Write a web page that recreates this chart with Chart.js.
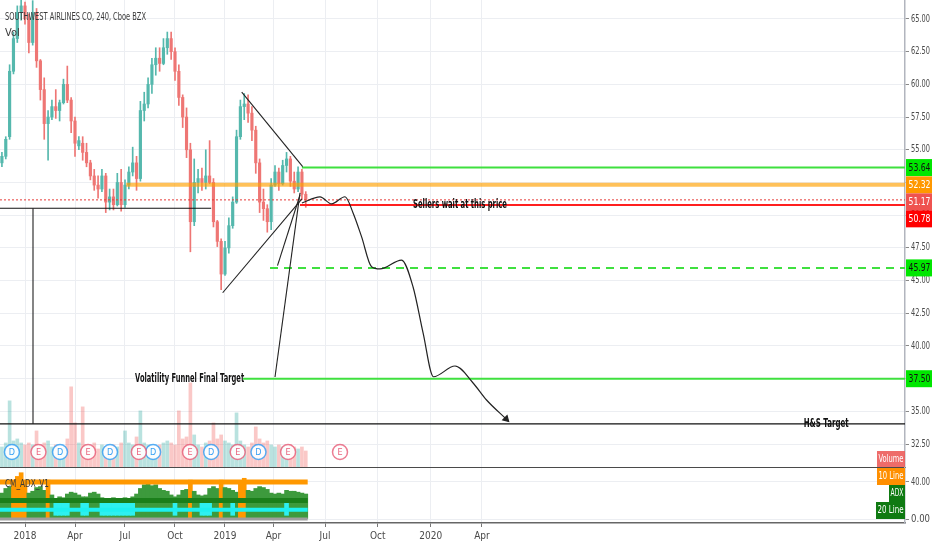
<!DOCTYPE html>
<html>
<head>
<meta charset="utf-8">
<script src="https://cdn.jsdelivr.net/npm/chart.js@4.4.1/dist/chart.umd.min.js"></script>
<style>
html, body { margin: 0; padding: 0; background: #fff; overflow: hidden; }
#wrap { position: relative; width: 932px; height: 550px; }
#mainChart { position: absolute; left: 0; top: 0; }
#adxChart { position: absolute; left: 0; top: 468px; }
</style>
</head>
<body>
<div id="wrap">
  <canvas id="mainChart" width="932" height="468"></canvas>
  <canvas id="adxChart" width="932" height="82"></canvas>
</div>
<script>
// x unit = week number counted from mid Nov 2017 (one candle per week)
var tickWeeks = [7, 20, 33, 46, 59, 71.6, 85, 98.7, 112.5, 125.8];
var tickLabels = ['2018', 'Apr', 'Jul', 'Oct', '2019', 'Apr', 'Jul', 'Oct', '2020', 'Apr'];
var priceTicks = [32.5, 35, 37.5, 40, 42.5, 45, 47.5, 50, 52.5, 55, 57.5, 60, 62.5, 65];
var adxTicks = [0, 40];

var opens = [54.0, 54.5, 56.0, 61.0, 63.5, 65.5, 66.0, 65.0, 63.2, 65.5,
             61.8, 59.6, 57.0, 57.5, 58.3, 58.0, 58.6, 60.0, 58.8, 57.2,
             55.3, 55.5, 54.8, 54.0, 53.0, 52.3, 52.0, 53.0, 51.0, 51.4,
             50.8, 52.5, 50.8, 52.3, 53.3, 54.0, 52.8, 58.0, 58.5, 60.0,
             61.5, 62.0, 61.6, 62.8, 63.5, 62.5, 61.0, 59.0, 57.5, 55.0,
             49.5, 52.5, 52.8, 52.5, 53.0, 52.5, 49.5, 48.0, 45.5, 47.5,
             49.2, 51.0, 56.0, 58.3, 58.5, 57.8, 56.5, 54.0, 51.0, 50.5,
             49.5, 52.3, 53.3, 52.4, 53.8, 54.3, 52.6, 52.0, 53.3, 51.6];
var highs = [54.8, 56.0, 61.5, 64.0, 66.0, 66.8, 66.3, 65.4, 66.4, 65.8,
             61.9, 60.5, 58.0, 58.8, 59.6, 58.8, 60.4, 61.4, 59.0, 57.5,
             56.0, 56.0, 55.5, 54.2, 53.5, 53.0, 53.5, 53.2, 52.0, 52.0,
             53.2, 53.5, 52.7, 53.7, 55.2, 54.5, 58.7, 59.4, 60.5, 62.0,
             62.8, 62.8, 63.5, 64.0, 64.0, 62.8, 61.5, 59.2, 58.2, 55.5,
             54.3, 53.5, 53.6, 55.0, 55.7, 52.8, 49.6, 48.2, 48.0, 49.8,
             51.4, 56.5, 58.8, 59.3, 59.2, 58.3, 56.8, 54.3, 52.0, 50.8,
             52.8, 53.8, 53.6, 54.2, 54.8, 54.5, 53.3, 53.7, 53.5, 51.8];
var lows = [53.7, 54.3, 55.8, 60.8, 63.2, 64.9, 64.6, 62.4, 63.0, 61.3,
            58.8, 55.8, 54.2, 57.3, 57.4, 57.2, 58.5, 58.6, 56.3, 54.5,
            55.0, 54.2, 53.7, 52.7, 51.9, 51.3, 51.8, 50.2, 50.4, 50.4,
            50.7, 50.3, 50.6, 52.0, 53.0, 51.9, 52.6, 57.2, 58.2, 59.3,
            60.7, 61.0, 61.5, 62.3, 61.9, 60.3, 58.4, 56.7, 54.4, 47.2,
            49.2, 51.7, 51.9, 52.0, 52.4, 49.1, 47.6, 44.3, 45.4, 47.1,
            49.0, 50.9, 55.8, 57.3, 57.1, 55.7, 53.2, 50.2, 49.6, 48.7,
            48.9, 52.2, 51.9, 52.3, 53.3, 52.2, 51.7, 51.8, 51.2, 50.6];
var closes = [54.5, 55.8, 61.0, 63.5, 65.5, 66.0, 65.0, 63.2, 65.5, 61.8,
              59.6, 57.0, 57.5, 58.3, 58.0, 58.6, 60.0, 58.8, 57.2, 55.5,
              55.7, 54.8, 54.0, 53.0, 52.3, 52.0, 53.0, 51.0, 51.4, 50.8,
              52.5, 50.8, 52.3, 53.3, 54.0, 52.8, 58.0, 58.5, 60.0, 61.5,
              62.0, 61.6, 62.8, 63.5, 62.5, 61.0, 59.0, 57.5, 55.0, 49.5,
              52.5, 52.8, 52.5, 53.0, 52.5, 49.5, 48.0, 45.5, 47.5, 49.2,
              51.0, 56.0, 58.3, 58.5, 57.8, 56.5, 54.0, 51.0, 50.5, 49.5,
              52.3, 53.3, 52.4, 53.8, 54.3, 52.6, 52.0, 53.3, 51.6, 51.17];
var volumes = [10, 12, 33, 13, 14, 12, 11, 12, 11, 18,
               11, 12, 13, 10, 11, 9, 10, 14, 40, 22,
               12, 30, 11, 10, 12, 9, 11, 10, 9, 11,
               10, 12, 18, 12, 11, 15, 28, 12, 11, 10,
               9, 11, 12, 13, 12, 11, 28, 14, 15, 42,
               16, 11, 10, 12, 13, 22, 14, 16, 13, 12,
               11, 27, 13, 11, 10, 12, 20, 14, 12, 13,
               11, 10, 11, 10, 9, 11, 10, 9, 10, 8];
var adxValues = [28, 33, 35, 41, 46, 50, 41, 28, 30, 34,
                 35, 31, 42, 26, 22, 24, 23, 27, 29, 28,
                 26, 24, 24, 28, 29, 27, 23, 22, 22, 23,
                 22, 21, 23, 22, 24, 27, 33, 37, 38, 36,
                 37, 33, 31, 30, 26, 24, 26, 31, 32, 42,
                 30, 26, 25, 26, 33, 35, 33, 42, 34, 33,
                 31, 29, 41, 44, 31, 30, 33, 35, 34, 32,
                 28, 27, 28, 27, 31, 30, 30, 29, 28, 27];
var cyanWeeks = [15, 16, 17, 18, 22, 23, 27, 28, 29, 30, 31, 32, 33, 34, 35, 46, 53, 54, 55, 61, 75];
var adxLevels = [40, 20, 10, 0];

var dividendWeeks = [3.6, 16.1, 29.1, 40.3, 55.4, 67.7];
var earningsWeeks = [10.5, 23.4, 36.6, 49.9, 62.3, 75.4, 88.9];

// horizontal drawings: price, first week, last week
var levelPrices = [53.64, 52.32, 51.17, 50.78, 50.53, 45.97, 37.50, 34.04];
var levelStarts = [79.0, 33.3, 0.5, 78.5, 0.5, 70.7, 63.7, 0.5];
var levelEnds = [235.8, 235.8, 235.8, 235.8, 55.4, 235.8, 235.8, 235.8];
var tagPrices = [53.64, 52.32, 51.17, 50.78, 45.97, 37.50];

// trend lines [week, price] pairs
var trendLines = [
  [[63.35, 59.40], [79.2, 53.71]],
  [[58.4, 44.07], [79.0, 51.24]],
  [[72.65, 46.15], [78.5, 51.54]],
  [[72.0, 37.63], [78.5, 51.70]],
  [[9.08, 50.53], [9.08, 34.04]]
];

// projected path
var pathWeeks = [79.0, 83.7, 86.7, 90.2, 92.3, 94.5, 97.1, 99.3, 104.9, 107.9, 110.5, 113.2, 118.8, 123.5, 127.0, 132.1];
var pathPrices = [50.93, 51.40, 50.86, 51.41, 50.17, 48.36, 46.06, 45.89, 46.57, 44.51, 41.0, 37.65, 38.47, 37.17, 35.87, 34.42];

var X_MIN = 0.5, X_MAX = 235.8;
var FONT = "'DejaVu Sans Condensed', 'Liberation Sans Narrow', 'Liberation Sans', Arial, sans-serif";
var UP = '#55b8ad', DOWN = '#ee7674';
var GRID = '#eceef2';

var levelStyles = [
  { color: '#3fe03f', width: 2 },
  { color: 'rgba(255,160,0,0.65)', width: 4 },
  { color: '#e53935', width: 1, dash: [2, 2] },
  { color: '#ff1f1f', width: 2 },
  { color: '#111', width: 1.2 },
  { color: '#3fe03f', width: 2, dash: [8, 6] },
  { color: '#3fe03f', width: 2 },
  { color: '#111', width: 1.3 }
];
var tagStyles = [
  { bg: '#00e600', fg: '#111' },
  { bg: '#ff9800', fg: '#fff' },
  { bg: '#ef5350', fg: '#fff' },
  { bg: '#ff0000', fg: '#fff' },
  { bg: '#00e600', fg: '#111' },
  { bg: '#00e600', fg: '#111' }
];
var notes = [
  { text: 'Sellers wait at this price', week: 120.1, price: 50.78, maxW: 94 },
  { text: 'Volatility Funnel Final Target', week: 49.8, price: 37.5, maxW: 109 },
  { text: 'H&S Target', week: 215.3, price: 34.04, maxW: 45 }
];

function up(i) { return closes[i] >= opens[i]; }
function noPad(s) { s.paddingLeft = 0; s.paddingRight = 0; s.paddingTop = 0; s.paddingBottom = 0; }

// price-axis style labels drawn narrow so they fit the 27px axis
function drawAxisLabels(chart, scale) {
  var ctx = chart.ctx;
  ctx.save();
  ctx.font = '10px ' + FONT;
  ctx.fillStyle = '#4a4a4a';
  ctx.textAlign = 'left';
  ctx.textBaseline = 'middle';
  scale.ticks.forEach(function (t) {
    ctx.fillText(Number(t.value).toFixed(2), chart.chartArea.right + 6, scale.getPixelForValue(t.value), 19);
  });
  ctx.restore();
}

var datasets = [];
datasets.push({
  data: volumes.map(function (v, i) { return { x: i + 1, y: v }; }),
  yAxisID: 'yVol', barThickness: 3, grouped: false, order: 20,
  backgroundColor: volumes.map(function (v, i) { return up(i) ? 'rgba(38,166,154,0.32)' : 'rgba(239,83,80,0.32)'; })
});
datasets.push({
  type: 'line', showLine: false, yAxisID: 'yVol', order: 19,
  data: dividendWeeks.map(function (w) { return { x: w, y: 7.5 }; }),
  pointRadius: 7.5, pointBackgroundColor: 'rgba(255,255,255,0.92)', pointBorderColor: 'rgba(33,150,243,0.75)', pointBorderWidth: 1.5
});
datasets.push({
  type: 'line', showLine: false, yAxisID: 'yVol', order: 18,
  data: earningsWeeks.map(function (w) { return { x: w, y: 7.5 }; }),
  pointRadius: 7.5, pointBackgroundColor: 'rgba(255,255,255,0.92)', pointBorderColor: 'rgba(229,80,110,0.75)', pointBorderWidth: 1.5
});
datasets.push({
  data: highs.map(function (h, i) { return { x: i + 1, y: [lows[i], h] }; }),
  barThickness: 1, grouped: false, order: 14,
  backgroundColor: highs.map(function (h, i) { return up(i) ? UP : DOWN; })
});
datasets.push({
  data: opens.map(function (o, i) { return { x: i + 1, y: [o, closes[i]] }; }),
  barThickness: 2.5, grouped: false, order: 13, minBarLength: 1,
  backgroundColor: opens.map(function (o, i) { return up(i) ? UP : DOWN; })
});
levelPrices.forEach(function (p, i) {
  var st = levelStyles[i];
  datasets.push({
    type: 'line', order: 5, pointRadius: 0, fill: false,
    data: [{ x: levelStarts[i], y: p }, { x: levelEnds[i], y: p }],
    borderColor: st.color, borderWidth: st.width, borderDash: st.dash || []
  });
});
trendLines.forEach(function (seg) {
  datasets.push({
    type: 'line', order: 4, pointRadius: 0, fill: false,
    data: seg.map(function (pt) { return { x: pt[0], y: pt[1] }; }),
    borderColor: '#222', borderWidth: 1.1
  });
});
datasets.push({
  type: 'line', order: 3, fill: false,
  data: pathWeeks.map(function (w, i) { return { x: w, y: pathPrices[i] }; }),
  borderColor: '#222', borderWidth: 1.2, cubicInterpolationMode: 'monotone',
  pointStyle: 'triangle', rotation: 135,
  pointRadius: function (c) { return c.dataIndex === pathWeeks.length - 1 ? 3.5 : 0; },
  pointBackgroundColor: '#222', pointBorderColor: '#222'
});

var mainOverlay = {
  id: 'mainOverlay',
  afterDatasetsDraw: function (chart) {
    var ctx = chart.ctx, xs = chart.scales.x, ys = chart.scales.y;
    ctx.save();
    ctx.textBaseline = 'middle';
    ctx.textAlign = 'left';
    ctx.fillStyle = '#3a3a3a';
    ctx.font = '11px ' + FONT;
    ctx.fillText('SOUTHWEST AIRLINES CO, 240, Cboe BZX', 5, 17, 141);
    ctx.fillText('Vol', 5, 33);
    // event letters
    ctx.textAlign = 'center';
    ctx.font = '9px ' + FONT;
    [[1, 'D', 'rgba(33,150,243,0.9)'], [2, 'E', 'rgba(229,80,110,0.9)']].forEach(function (m) {
      ctx.fillStyle = m[2];
      chart.getDatasetMeta(m[0]).data.forEach(function (el) { ctx.fillText(m[1], el.x, el.y + 0.5); });
    });
    // notes
    ctx.fillStyle = '#111';
    ctx.font = 'bold 13px ' + FONT;
    notes.forEach(function (n) {
      ctx.fillText(n.text, xs.getPixelForValue(n.week), ys.getPixelForValue(n.price), n.maxW);
    });
    ctx.restore();
  },
  afterDraw: function (chart) {
    var ctx = chart.ctx, ys = chart.scales.y, ca = chart.chartArea;
    drawAxisLabels(chart, ys);
    var w = chart.width - ca.right, h = 17, prevBottom = -1e9;
    ctx.save();
    ctx.textBaseline = 'middle';
    ctx.textAlign = 'center';
    ctx.font = '10px ' + FONT;
    tagPrices.forEach(function (p, i) {
      var top = Math.max(ys.getPixelForValue(p) - h / 2, prevBottom);
      prevBottom = top + h;
      ctx.fillStyle = tagStyles[i].bg;
      ctx.fillRect(ca.right + 1, top, w, h);
      ctx.fillStyle = tagStyles[i].fg;
      ctx.fillText(p.toFixed(2), ca.right + 1 + w / 2, top + h / 2 + 0.5, w - 5);
    });
    // series name tag for the volume overlay
    var tw = 28;
    ctx.fillStyle = 'rgba(236,92,90,0.9)';
    ctx.fillRect(ca.right - tw, ca.bottom - 16, tw, 16);
    ctx.fillStyle = '#fff';
    ctx.fillText('Volume', ca.right - tw / 2, ca.bottom - 8, tw - 3);
    ctx.restore();
  }
};

new Chart(document.getElementById('mainChart'), {
  type: 'bar',
  data: { datasets: datasets },
  options: {
    responsive: false,
    animation: false,
    layout: { padding: 0, autoPadding: false },
    plugins: { legend: { display: false }, tooltip: { enabled: false } },
    scales: {
      x: {
        type: 'linear', min: X_MIN, max: X_MAX, offset: false,
        grid: { color: GRID, drawTicks: false, offset: false },
        border: { display: true, color: '#4a4a4a', width: 1 },
        ticks: { display: false },
        afterBuildTicks: function (s) { s.ticks = tickWeeks.map(function (v) { return { value: v }; }); },
        afterFit: function (s) { s.height = 1; noPad(s); }
      },
      y: {
        position: 'right', min: 30.75, max: 66.45,
        grid: { color: GRID, tickLength: 4, tickColor: '#888' },
        border: { color: '#b2b5be', width: 1.5 },
        ticks: { display: false },
        afterBuildTicks: function (s) { s.ticks = priceTicks.map(function (v) { return { value: v }; }); },
        afterFit: function (s) { s.width = 27; noPad(s); }
      },
      yVol: { display: false, min: 0, max: 233, ticks: { display: false }, afterFit: noPad }
    }
  },
  plugins: [mainOverlay]
});

// ---------- ADX pane ----------
var adxSets = [];
var adxStyles = [
  { color: '#ff9800', width: 5 },
  { color: '#1b7f1b', width: 5 },
  { color: '#1ef0f0', width: 4 },
  { color: '#9e9e9e', width: 3 }
];
adxLevels.forEach(function (lv, i) {
  adxSets.push({
    type: 'line', order: 1 + i, pointRadius: 0, fill: false,
    data: [{ x: X_MIN, y: lv }, { x: adxValues.length + 0.5, y: lv }],
    borderColor: adxStyles[i].color, borderWidth: adxStyles[i].width
  });
});
adxSets.push({
  order: 8, grouped: false, barThickness: 4,
  data: cyanWeeks.map(function (w) { return { x: w, y: [4, 17] }; }),
  backgroundColor: '#2ef0f0'
});
adxSets.push({
  order: 9, grouped: false, barThickness: 4,
  data: adxValues.map(function (v, i) { return { x: i + 1, y: v }; }),
  backgroundColor: adxValues.map(function (v) { return v >= 40 ? '#ff9800' : '#3d9a3d'; })
});

var adxOverlay = {
  id: 'adxOverlay',
  afterDraw: function (chart) {
    var ctx = chart.ctx, ca = chart.chartArea;
    drawAxisLabels(chart, chart.scales.y);
    ctx.save();
    ctx.textBaseline = 'middle';
    ctx.textAlign = 'left';
    ctx.font = '11px ' + FONT;
    ctx.fillStyle = '#3a3a3a';
    ctx.fillText('CM_ADX_V1', 5, 16, 44);
    var tags = [['10 Line', '#ff8f00', 28], ['ADX', '#0f7a12', 16], ['20 Line', '#0f7a12', 29]];
    ctx.textAlign = 'center';
    ctx.font = '10px ' + FONT;
    tags.forEach(function (t, i) {
      var top = ca.top + i * 17;
      ctx.fillStyle = t[1];
      ctx.fillRect(ca.right - t[2], top, t[2], 17);
      ctx.fillStyle = '#fff';
      ctx.fillText(t[0], ca.right - t[2] / 2, top + 8.5, t[2] - 3);
    });
    ctx.restore();
  }
};

new Chart(document.getElementById('adxChart'), {
  type: 'bar',
  data: { datasets: adxSets },
  options: {
    responsive: false,
    animation: false,
    layout: { padding: 0, autoPadding: false },
    plugins: { legend: { display: false }, tooltip: { enabled: false } },
    scales: {
      x: {
        type: 'linear', min: X_MIN, max: X_MAX, offset: false,
        grid: { color: GRID, tickLength: 4, tickColor: '#777', offset: false },
        border: { display: true, color: '#666', width: 1.5 },
        ticks: {
          font: { family: FONT, size: 10 }, color: '#4a4a4a', padding: 3, autoSkip: false, maxRotation: 0,
          callback: function (v, i) { return tickLabels[i]; }
        },
        afterBuildTicks: function (s) { s.ticks = tickWeeks.map(function (v) { return { value: v }; }); },
        afterFit: function (s) { s.height = 27; noPad(s); }
      },
      y: {
        position: 'right', min: -4.3, max: 55.1,
        grid: { color: GRID, tickLength: 4, tickColor: '#888' },
        border: { color: '#b2b5be', width: 1.5 },
        ticks: { display: false },
        afterBuildTicks: function (s) { s.ticks = adxTicks.map(function (v) { return { value: v }; }); },
        afterFit: function (s) { s.width = 27; noPad(s); }
      }
    }
  },
  plugins: [adxOverlay]
});
</script>
</body>
</html>
